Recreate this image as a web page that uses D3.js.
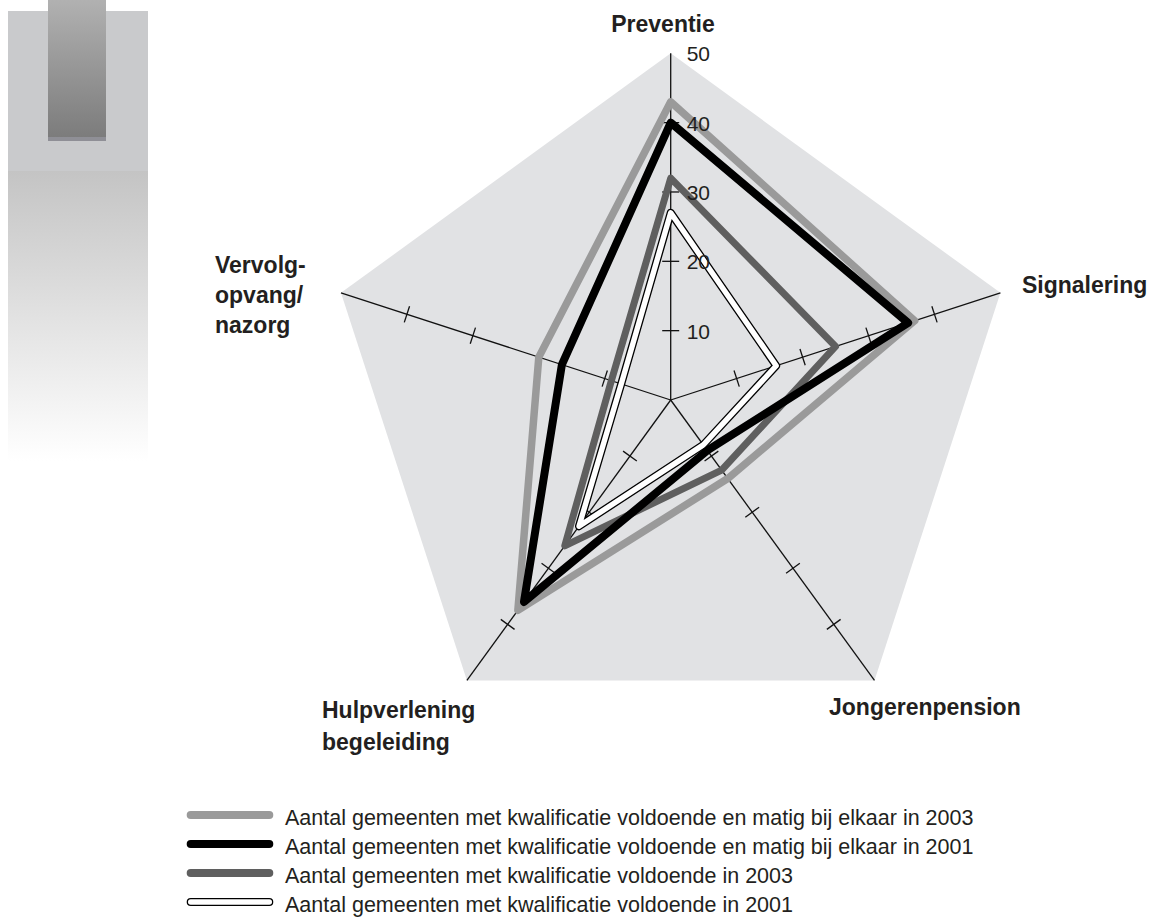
<!DOCTYPE html>
<html>
<head>
<meta charset="utf-8">
<script src="https://cdn.jsdelivr.net/npm/d3@7"></script>
<style>
  html, body { margin: 0; padding: 0; background: #ffffff; }
  svg { display: block; }
  text { font-family: "Liberation Sans", Arial, Helvetica, sans-serif; fill: #231f20; }
</style>
</head>
<body>
<svg id="chart" width="1151" height="918"></svg>
<script>
// ---- data ----
const categories = ["Preventie", "Signalering", "Jongerenpension", "Hulpverlening begeleiding", "Vervolgopvang/nazorg"];
const categoryLines = [["Preventie"], ["Signalering"], ["Jongerenpension"], ["Hulpverlening", "begeleiding"], ["Vervolg-", "opvang/", "nazorg"]];
const combined2003 = [43, 37, 14, 37.5, 20];
const combined2001 = [40, 36, 9, 36, 16.5];
const voldoende2003 = [32, 25, 12.5, 26, 9];
const voldoende2001 = [27, 16, 8, 22.5, 7.5];
const tickValues = [10, 20, 30, 40, 50];
const legendLabels = [
  "Aantal gemeenten met kwalificatie voldoende en matig bij elkaar in 2003",
  "Aantal gemeenten met kwalificatie voldoende en matig bij elkaar in 2001",
  "Aantal gemeenten met kwalificatie voldoende in 2003",
  "Aantal gemeenten met kwalificatie voldoende in 2001"
];

// ---- layout ----
const svg = d3.select("#chart");
const cx = 670.7, cy = 400, R = 346.7;
const r = d3.scaleLinear().domain([0, 50]).range([0, R]);
const n = categories.length;
const angle = d3.scaleLinear().domain([0, n]).range([0, 2 * Math.PI]);
const pt = (i, v) => [cx + r(v) * Math.sin(angle(i)), cy - r(v) * Math.cos(angle(i))];

// ---- left decoration ----
const defs = svg.append("defs");
const g1 = defs.append("linearGradient").attr("id", "fadeGrad").attr("x1", 0).attr("y1", 0).attr("x2", 0).attr("y2", 1);
g1.append("stop").attr("offset", "0%").attr("stop-color", "#c4c4c4");
g1.append("stop").attr("offset", "100%").attr("stop-color", "#ffffff");
const g2 = defs.append("linearGradient").attr("id", "barGrad").attr("x1", 0).attr("y1", 0).attr("x2", 0).attr("y2", 1);
g2.append("stop").attr("offset", "0%").attr("stop-color", "#b1b1b1");
g2.append("stop").attr("offset", "100%").attr("stop-color", "#7c7c7c");

svg.append("rect").attr("x", 8).attr("y", 11).attr("width", 140).attr("height", 160).attr("fill", "#c9cacc");
svg.append("rect").attr("x", 8).attr("y", 171).attr("width", 140).attr("height", 290).attr("fill", "url(#fadeGrad)");
svg.append("rect").attr("x", 48).attr("y", 0).attr("width", 58).attr("height", 137).attr("fill", "url(#barGrad)");
svg.append("rect").attr("x", 48).attr("y", 137).attr("width", 58).attr("height", 4).attr("fill", "#8f8f96");

// ---- background pentagon ----
svg.append("path")
  .attr("transform", `translate(${cx},${cy})`)
  .attr("d", d3.lineRadial().angle((d, i) => angle(i)).radius(d => r(d)).curve(d3.curveLinearClosed)(categories.map(() => 50)))
  .attr("fill", "#e1e2e4");

// ---- axes with ticks ----
const axisG = svg.append("g");
categories.forEach((c, i) => {
  const [x2, y2] = pt(i, 50);
  axisG.append("line").attr("x1", cx).attr("y1", cy).attr("x2", x2).attr("y2", y2)
    .attr("stroke", "#111").attr("stroke-width", 1.3);
  const a = angle(i);
  const px = Math.cos(a), py = Math.sin(a); // perpendicular direction
  tickValues.filter(t => t < 50).forEach(t => {
    const [tx, ty] = pt(i, t);
    axisG.append("line")
      .attr("x1", tx - px * 8.5).attr("y1", ty - py * 8.5)
      .attr("x2", tx + px * 8.5).attr("y2", ty + py * 8.5)
      .attr("stroke", "#111").attr("stroke-width", 1.3);
  });
});

// ---- series ----
const radial = d3.lineRadial().angle((d, i) => angle(i)).radius(d => r(d)).curve(d3.curveLinearClosed);
const seriesG = svg.append("g").attr("transform", `translate(${cx},${cy})`)
  .attr("fill", "none").attr("stroke-linejoin", "round");
seriesG.append("path").attr("d", radial(combined2003)).attr("stroke", "#9a9a9a").attr("stroke-width", 7.5);
seriesG.append("path").attr("d", radial(voldoende2003)).attr("stroke", "#5f5f5f").attr("stroke-width", 7);
seriesG.append("path").attr("d", radial(voldoende2001)).attr("stroke", "#000").attr("stroke-width", 8);
seriesG.append("path").attr("d", radial(voldoende2001)).attr("stroke", "#fff").attr("stroke-width", 5.4);
seriesG.append("path").attr("d", radial(combined2001)).attr("stroke", "#000").attr("stroke-width", 8);

// ---- tick labels on first axis ----
svg.append("g").selectAll("text").data(tickValues).join("text")
  .attr("x", cx + 16).attr("y", d => pt(0, d)[1] + 0.5)
  .attr("dominant-baseline", "central")
  .attr("font-size", 21)
  .text(d => d);

// ---- category labels ----
const labelPos = [
  { x: 663, y: 31.5, anchor: "middle" },
  { x: 1022, y: 293, anchor: "start" },
  { x: 829, y: 714.5, anchor: "start" },
  { x: 322, y: 718, anchor: "start" },
  { x: 215, y: 273, anchor: "start" }
];
const lineH = [0, 0, 0, 32, 30];
categoryLines.forEach((lines, i) => {
  const t = svg.append("text")
    .attr("x", labelPos[i].x).attr("y", labelPos[i].y)
    .attr("text-anchor", labelPos[i].anchor)
    .attr("font-size", 23).attr("font-weight", "bold");
  lines.forEach((l, k) => {
    t.append("tspan").attr("x", labelPos[i].x).attr("dy", k === 0 ? 0 : lineH[i]).text(l);
  });
});

// ---- legend ----
const legendY = [815, 844, 873, 902];
const legStyles = [
  [{ c: "#9a9a9a", w: 8 }],
  [{ c: "#000", w: 8 }],
  [{ c: "#5f5f5f", w: 8 }],
  [{ c: "#000", w: 8 }, { c: "#fff", w: 5.4 }]
];
const leg = svg.append("g");
legendLabels.forEach((lab, i) => {
  legStyles[i].forEach(s => {
    leg.append("line").attr("x1", 190.7).attr("x2", 269.3)
      .attr("y1", legendY[i]).attr("y2", legendY[i])
      .attr("stroke", s.c).attr("stroke-width", s.w).attr("stroke-linecap", "round");
  });
  leg.append("text").attr("x", 285).attr("y", legendY[i] + 10)
    .attr("font-size", 21.5).text(lab);
});
</script>
</body>
</html>
